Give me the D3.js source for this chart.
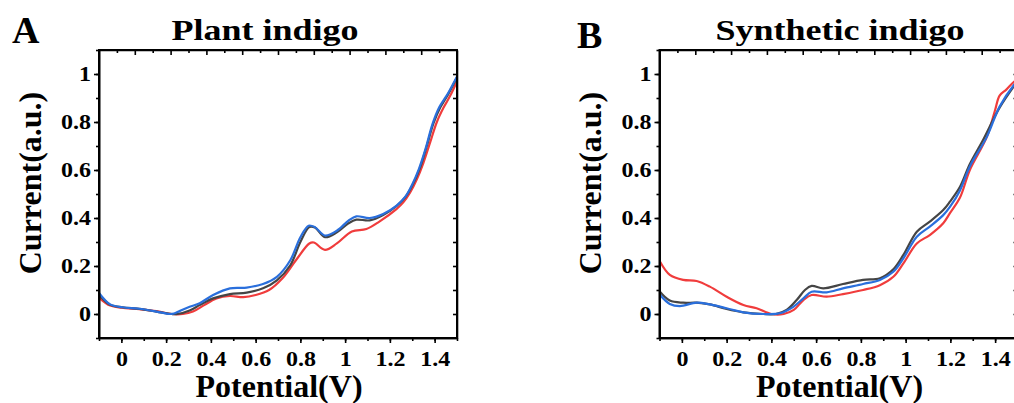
<!DOCTYPE html>
<html>
<head>
<meta charset="utf-8" />
<script src="https://cdn.jsdelivr.net/npm/d3@7"></script>
<style>
    body { margin: 0; background: #fff; }
    text { font-family: "Liberation Serif", "Times New Roman", serif; font-weight: bold; fill: #000; }
    .axis path, .axis line { stroke: #000; stroke-width: 1.6; }
    .axis text { font-size: 20px; }
</style>
</head>
<body>
<svg id="chart" width="1014" height="403"></svg>
<script>
// tick values and labels
var xTicks = [0, 0.2, 0.4, 0.6, 0.8, 1, 1.2, 1.4];
var xLabels = ['0', '0.2', '0.4', '0.6', '0.8', '1', '1.2', '1.4'];
var yTicks = [0, 0.2, 0.4, 0.6, 0.8, 1];
var yLabels = ['0', '0.2', '0.4', '0.6', '0.8', '1'];

// [potential (V), current (a.u.)]
var plantRed = [[-0.1,0.068],[-0.05,0.035],[0,0.026],[0.08,0.02],[0.157,0.012],[0.225,0],[0.275,0],[0.32,0.01],[0.37,0.037],[0.425,0.065],[0.485,0.075],[0.545,0.07],[0.6,0.079],[0.66,0.1],[0.72,0.149],[0.78,0.224],[0.84,0.294],[0.86,0.298],[0.91,0.267],[0.963,0.294],[1.03,0.344],[1.095,0.354],[1.153,0.385],[1.228,0.436],[1.26,0.465],[1.29,0.505],[1.32,0.56],[1.35,0.63],[1.38,0.715],[1.41,0.8],[1.44,0.86],[1.47,0.91],[1.5,0.97]];
var plantBlack = [[-0.1,0.08],[-0.05,0.038],[0.005,0.028],[0.08,0.021],[0.157,0.01],[0.225,0],[0.25,0],[0.305,0.015],[0.35,0.037],[0.41,0.065],[0.485,0.083],[0.56,0.089],[0.633,0.107],[0.695,0.14],[0.755,0.203],[0.8,0.3],[0.84,0.362],[0.865,0.36],[0.91,0.32],[0.963,0.34],[1.015,0.378],[1.05,0.393],[1.11,0.39],[1.17,0.412],[1.23,0.45],[1.27,0.488],[1.3,0.535],[1.335,0.61],[1.365,0.7],[1.395,0.795],[1.425,0.86],[1.46,0.915],[1.5,0.985]];
var plantBlue = [[-0.1,0.088],[-0.05,0.04],[0.005,0.028],[0.08,0.022],[0.157,0.01],[0.215,0],[0.235,0.002],[0.26,0.012],[0.305,0.03],[0.35,0.045],[0.41,0.079],[0.485,0.107],[0.56,0.11],[0.633,0.125],[0.695,0.155],[0.755,0.224],[0.8,0.32],[0.837,0.368],[0.865,0.362],[0.91,0.327],[0.963,0.347],[1.015,0.389],[1.05,0.407],[1.11,0.4],[1.17,0.417],[1.23,0.452],[1.27,0.49],[1.3,0.54],[1.33,0.605],[1.36,0.69],[1.39,0.79],[1.42,0.86],[1.46,0.92],[1.5,0.99]];

var synthRed = [[-0.1,0.222],[-0.054,0.163],[0.006,0.142],[0.066,0.1375],[0.125,0.114],[0.2,0.072],[0.275,0.0375],[0.334,0.024],[0.4,0],[0.455,0],[0.5,0.017],[0.543,0.058],[0.58,0.079],[0.647,0.072],[0.72,0.083],[0.81,0.1],[0.885,0.12],[0.945,0.155],[0.99,0.211],[1.05,0.294],[1.108,0.329],[1.168,0.378],[1.198,0.42],[1.243,0.485],[1.287,0.6],[1.363,0.738],[1.4,0.85],[1.42,0.91],[1.45,0.935],[1.484,0.967],[1.5,0.975]];
var synthBlack = [[-0.1,0.095],[-0.054,0.056],[0.006,0.047],[0.066,0.047],[0.125,0.04],[0.2,0.021],[0.275,0.007],[0.364,0],[0.42,0],[0.468,0.017],[0.513,0.058],[0.55,0.1],[0.58,0.117],[0.632,0.107],[0.72,0.125],[0.81,0.142],[0.885,0.149],[0.945,0.186],[0.99,0.246],[1.05,0.343],[1.108,0.385],[1.168,0.433],[1.198,0.468],[1.243,0.53],[1.287,0.625],[1.346,0.725],[1.42,0.86],[1.5,0.97]];
var synthBlue = [[-0.1,0.082],[-0.054,0.042],[-0.009,0.033],[0.066,0.047],[0.125,0.04],[0.2,0.024],[0.275,0.007],[0.364,0],[0.438,0.003],[0.498,0.03],[0.543,0.065],[0.58,0.093],[0.647,0.09],[0.72,0.107],[0.81,0.125],[0.885,0.142],[0.945,0.176],[0.99,0.232],[1.05,0.322],[1.108,0.364],[1.168,0.412],[1.198,0.446],[1.243,0.515],[1.287,0.615],[1.363,0.738],[1.42,0.864],[1.484,0.954],[1.5,0.97]];

var panels = [
    {letter: 'A', title: 'Plant indigo', left: 99, series: [plantRed, plantBlack, plantBlue], titleX: 265, letterX: 12, letterY: 43, ylabX: 30},
    {letter: 'B', title: 'Synthetic indigo', left: 659.5, series: [synthRed, synthBlack, synthBlue], titleX: 840, letterX: 577, letterY: 48, ylabX: 590}
];
var colors = ['#f03c3c', '#454545', '#2a6fdc'];

var plotW = 358, plotTop = 50, plotBottom = 338, stretch = 1.2;
var svg = d3.select('#chart');

panels.forEach(function(p, pi){
    var x = d3.scaleLinear().domain([-0.1, 1.5]).range([p.left, p.left + plotW]);
    var y = d3.scaleLinear().domain([-0.1, 1.1]).range([plotBottom, plotTop]);
    var g = svg.append('g');

    var clipId = 'clip' + pi;
    g.append('clipPath').attr('id', clipId).append('rect')
        .attr('x', p.left).attr('y', plotTop).attr('width', plotW).attr('height', plotBottom - plotTop);

    var line = d3.line()
        .x(function(d){ return x(d[0]); })
        .y(function(d){ return y(d[1]); })
        .curve(d3.curveCatmullRom.alpha(0.5));

    p.series.forEach(function(s, i){
        g.append('path').datum(s).attr('clip-path', 'url(#' + clipId + ')')
            .attr('fill', 'none').attr('stroke', colors[i]).attr('stroke-width', 2.2)
            .attr('d', line);
    });

    var minorX = d3.range(-0.1, 1.55, 0.1).map(function(v){ return +v.toFixed(2); });
    var minorY = d3.range(-0.1, 1.15, 0.1).map(function(v){ return +v.toFixed(2); });

    // bottom axis (outward ticks)
    g.append('g').attr('class', 'axis').attr('transform', 'translate(0,' + plotBottom + ')')
        .call(d3.axisBottom(x).tickValues(minorX).tickSize(3).tickSizeOuter(0))
        .selectAll('text').remove();
    g.append('g').attr('class', 'axis').attr('transform', 'translate(0,' + plotBottom + ')')
        .call(d3.axisBottom(x).tickValues(xTicks).tickSize(5).tickPadding(9).tickSizeOuter(0)
            .tickFormat(function(d, i){ return xLabels[i]; }))
        .selectAll('text').attr('transform', 'scale(' + stretch + ',1)');

    // left axis (outward ticks)
    g.append('g').attr('class', 'axis').attr('transform', 'translate(' + p.left + ',0)')
        .call(d3.axisLeft(y).tickValues(minorY).tickSize(3).tickSizeOuter(0))
        .selectAll('text').remove();
    g.append('g').attr('class', 'axis').attr('transform', 'translate(' + p.left + ',0)')
        .call(d3.axisLeft(y).tickValues(yTicks).tickSize(5).tickPadding(4).tickSizeOuter(0)
            .tickFormat(function(d, i){ return yLabels[i]; }))
        .selectAll('text').attr('dy', '0.34em').attr('x', -8 / stretch)
        .attr('transform', 'scale(' + stretch + ',1)');

    // right axis (inward ticks)
    g.append('g').attr('class', 'axis').attr('transform', 'translate(' + (p.left + plotW) + ',0)')
        .call(d3.axisLeft(y).tickValues(minorY.slice(1, -1)).tickSize(4).tickSizeOuter(0))
        .selectAll('text').remove();

    // top axis (inward ticks, 20 divisions)
    var xt = d3.scaleLinear().domain([0, 20]).range([p.left, p.left + plotW]);
    var topAxis = g.append('g').attr('class', 'axis').attr('transform', 'translate(0,' + plotTop + ')')
        .call(d3.axisBottom(xt).tickValues(d3.range(1, 20)).tickSize(4).tickSizeOuter(0));
    topAxis.selectAll('text').remove();
    topAxis.selectAll('.tick line').attr('y2', function(d){ return d % 2 === 0 ? 5 : 3; });

    // frame
    g.append('rect').attr('x', p.left).attr('y', plotTop).attr('width', plotW).attr('height', plotBottom - plotTop)
        .attr('fill', 'none').attr('stroke', '#000').attr('stroke-width', 2);

    // titles and labels
    g.append('text').attr('transform', 'translate(' + p.titleX + ',40) scale(' + stretch + ',1)')
        .attr('text-anchor', 'middle').style('font-size', '30px').text(p.title);
    g.append('text').attr('x', p.letterX).attr('y', p.letterY)
        .style('font-size', '38px').text(p.letter);
    g.append('text').attr('x', p.left + 180).attr('y', 397).attr('text-anchor', 'middle')
        .style('font-size', '32px').text('Potential(V)');
    g.append('text').attr('transform', 'translate(' + (p.ylabX + 11) + ',' + 183 + ') rotate(-90)')
        .attr('text-anchor', 'middle').style('font-size', '32px').text('Current(a.u.)');
});
</script>
</body>
</html>
